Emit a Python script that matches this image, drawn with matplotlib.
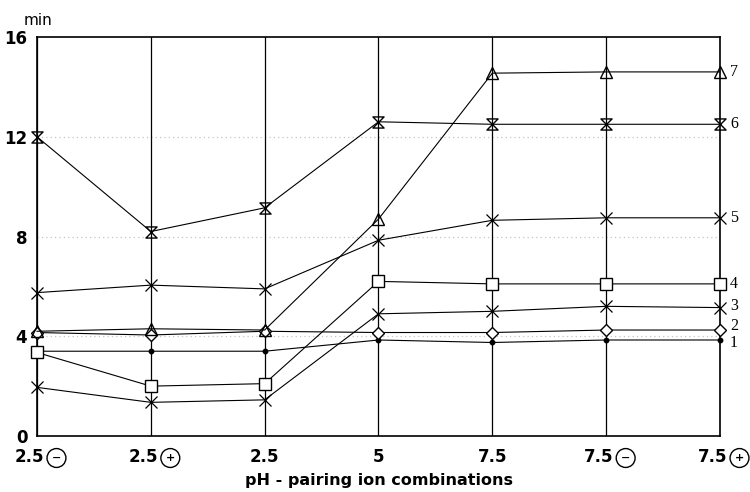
import matplotlib
matplotlib.use("Agg")
import matplotlib.pyplot as plt
from matplotlib.path import Path
from matplotlib.transforms import blended_transform_factory, offset_copy

# ---- data ----
ph_values = ["2.5", "2.5", "2.5", "5", "7.5", "7.5", "7.5"]
ion_signs = ["−", "+", "", "", "", "−", "+"]
series_names = ["1", "2", "3", "4", "5", "6", "7"]
s1 = [3.4, 3.4, 3.4, 3.85, 3.75, 3.85, 3.85]
s2 = [4.15, 4.05, 4.2, 4.15, 4.15, 4.25, 4.25]
s3 = [1.95, 1.35, 1.45, 4.9, 5.0, 5.2, 5.15]
s4 = [3.35, 2.0, 2.1, 6.2, 6.1, 6.1, 6.1]
s5 = [5.75, 6.05, 5.9, 7.85, 8.65, 8.75, 8.75]
s6 = [12.0, 8.2, 9.15, 12.6, 12.5, 12.5, 12.5]
s7 = [4.2, 4.3, 4.25, 8.7, 14.55, 14.6, 14.6]
y_ticks = [0, 4, 8, 12, 16]

hourglass = Path([(-1, 1), (1, 1), (-1, -1), (1, -1), (-1, 1)],
                 [Path.MOVETO, Path.LINETO, Path.LINETO, Path.LINETO, Path.CLOSEPOLY])

styles = [
    dict(marker="o", ms=3.2, mfc="black"),
    dict(marker="D", ms=6, mfc="white"),
    dict(marker="x", ms=8, mew=0.9),
    dict(marker="s", ms=8, mfc="white"),
    dict(marker="x", ms=8, mew=0.9),
    dict(marker=hourglass, ms=8, mfc="none"),
    dict(marker="^", ms=9, mfc="none"),
]
label_offsets = [-3, 4, 2, 0, 0, 0, 0]

fig = plt.figure(figsize=(7.5, 4.92), dpi=100)
ax = fig.add_axes([0.0493, 0.1138, 0.9107, 0.811])

x = list(range(len(ph_values)))
for xi in x:
    ax.axvline(xi, color="black", lw=0.9, zorder=1)
for yv in y_ticks[1:-1]:
    ax.axhline(yv, color="#c4c4c4", lw=0.9, ls=(0, (1, 2.5)), zorder=0.5)

all_series = [s1, s2, s3, s4, s5, s6, s7]
for vals, st in zip(all_series, styles):
    ax.plot(x, vals, color="black", lw=0.8, mec="black", zorder=3, clip_on=False, **st)

ax.set_xlim(0, len(x) - 1)
ax.set_ylim(0, 16)
ax.set_yticks(y_ticks)
ax.set_yticklabels([str(v) for v in y_ticks], fontsize=12, fontweight="bold",
                   family="DejaVu Sans")
ax.tick_params(axis="y", length=0, pad=7)
ax.set_xticks(x)
ax.tick_params(axis="x", length=0, labelbottom=False)
for sp in ax.spines.values():
    sp.set_linewidth(1.2)

# x tick labels with circled ion signs
tr = blended_transform_factory(ax.transData, ax.transAxes)
for xi, ph, sg in zip(x, ph_values, ion_signs):
    if sg:
        t = offset_copy(tr, fig=fig, x=7, y=-21, units="dots")
        ax.text(xi, 0, ph, transform=t, ha="right", va="center", fontsize=12,
                fontweight="bold", family="DejaVu Sans")
        t2 = offset_copy(tr, fig=fig, x=19.5, y=-22, units="dots")
        ax.text(xi, 0, sg, transform=t2, ha="center", va="center", fontsize=8,
                fontweight="bold", family="DejaVu Sans",
                bbox=dict(boxstyle="circle,pad=0.4", fc="none", ec="black", lw=1.0))
    else:
        t = offset_copy(tr, fig=fig, x=0, y=-21, units="dots")
        ax.text(xi, 0, ph, transform=t, ha="center", va="center", fontsize=12,
                fontweight="bold", family="DejaVu Sans")

fig.text(0.505, 0.024, "pH - pairing ion combinations", ha="center", va="center",
         fontsize=11.5, fontweight="bold", family="DejaVu Sans")
fig.text(0.051, 0.959, "min", ha="center", va="center", fontsize=11, family="DejaVu Sans")

# series numbers on the right
for name, vals, off in zip(series_names, all_series, label_offsets):
    t = offset_copy(ax.transData, fig=fig, x=10, y=off, units="dots")
    ax.text(x[-1], vals[-1], name, transform=t, ha="left", va="center",
            fontsize=11.5, family="Liberation Serif")

fig.savefig("out.png", dpi=100)
